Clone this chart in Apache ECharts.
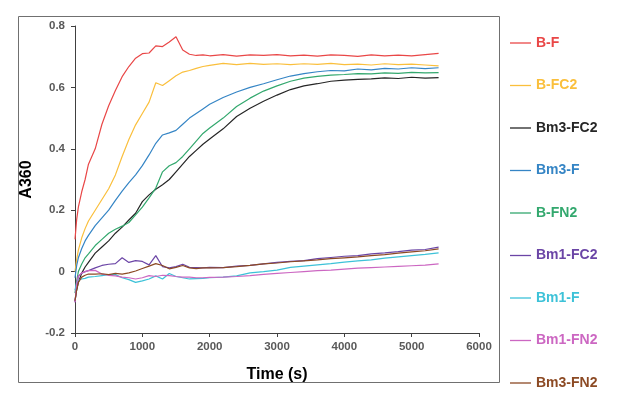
<!DOCTYPE html>
<html>
<head>
<meta charset="utf-8">
<script src="https://cdn.jsdelivr.net/npm/echarts@6/dist/echarts.min.js"></script>
<style>
  html, body { margin: 0; padding: 0; background: #fff; }
  #main { width: 617px; height: 398px; }
</style>
</head>
<body>
<div id="main"></div>
<script>
// time points (s)
var times = [0, 25, 50, 100, 150, 200, 300, 400, 500, 600, 700, 800, 900, 1000, 1100, 1200, 1300, 1400, 1500, 1600, 1700, 1800, 1900, 2000,
    2200, 2400, 2600, 2800, 3000, 3200, 3400, 3600, 3800, 4000, 4200, 4400, 4600, 4800, 5000, 5200, 5400];

var names = ['B-F', 'B-FC2', 'Bm3-FC2', 'Bm3-F', 'B-FN2', 'Bm1-FC2', 'Bm1-F', 'Bm1-FN2', 'Bm3-FN2'];
var colors = ['#E94747', '#FABF3C', '#262626', '#3585C5', '#33A86E', '#6B45A6', '#3DC2D8', '#CC67C2', '#8C4A24'];

// A360 readings
var bF = [0.105, 0.17, 0.21, 0.26, 0.30, 0.35, 0.40, 0.48, 0.54, 0.59, 0.635, 0.668, 0.695, 0.710, 0.712, 0.735, 0.733, 0.748, 0.765, 0.722, 0.708, 0.704, 0.706, 0.703,
    0.707, 0.702, 0.706, 0.704, 0.707, 0.703, 0.705, 0.702, 0.706, 0.704, 0.701, 0.706, 0.703, 0.705, 0.703, 0.707, 0.711];
var bFC2 = [0.0, 0.04, 0.07, 0.11, 0.14, 0.165, 0.20, 0.235, 0.27, 0.315, 0.375, 0.43, 0.478, 0.515, 0.552, 0.615, 0.606, 0.622, 0.638, 0.65, 0.655, 0.662, 0.668, 0.672,
    0.678, 0.674, 0.678, 0.675, 0.677, 0.674, 0.677, 0.675, 0.678, 0.674, 0.676, 0.673, 0.677, 0.674, 0.676, 0.673, 0.670];
var bm3FC2 = [-0.095, -0.06, -0.035, -0.005, 0.015, 0.03, 0.06, 0.08, 0.10, 0.125, 0.145, 0.168, 0.19, 0.228, 0.25, 0.268, 0.283, 0.30, 0.325, 0.35, 0.375, 0.395, 0.415, 0.432,
    0.465, 0.505, 0.532, 0.555, 0.575, 0.593, 0.605, 0.612, 0.62, 0.624, 0.626, 0.628, 0.631, 0.629, 0.633, 0.63, 0.632];
var bm3F = [-0.02, 0.02, 0.045, 0.075, 0.10, 0.118, 0.15, 0.175, 0.20, 0.232, 0.262, 0.29, 0.315, 0.345, 0.38, 0.418, 0.445, 0.452, 0.460, 0.48, 0.50, 0.515, 0.53, 0.545,
    0.567, 0.585, 0.60, 0.612, 0.625, 0.637, 0.645, 0.651, 0.655, 0.654, 0.66, 0.657, 0.662, 0.66, 0.664, 0.661, 0.664];
var bFN2 = [-0.07, -0.03, 0.0, 0.025, 0.045, 0.058, 0.085, 0.105, 0.125, 0.138, 0.148, 0.16, 0.185, 0.21, 0.24, 0.272, 0.325, 0.345, 0.355, 0.375, 0.40, 0.425, 0.45, 0.468,
    0.50, 0.538, 0.565, 0.588, 0.605, 0.62, 0.63, 0.636, 0.64, 0.642, 0.645, 0.644, 0.647, 0.646, 0.649, 0.647, 0.648];
var bm1FC2 = [-0.10, -0.05, -0.015, -0.005, 0.0, 0.003, 0.012, 0.02, 0.024, 0.026, 0.045, 0.03, 0.036, 0.033, 0.022, 0.052, 0.016, 0.012, 0.016, 0.024, 0.014, 0.013, 0.012, 0.014,
    0.013, 0.018, 0.02, 0.025, 0.03, 0.033, 0.036, 0.042, 0.046, 0.05, 0.052, 0.058, 0.061, 0.065, 0.07, 0.072, 0.08];
var bm1F = [-0.06, -0.035, -0.028, -0.024, -0.022, -0.018, -0.016, -0.013, -0.01, -0.01, -0.02, -0.026, -0.035, -0.03, -0.024, -0.014, -0.024, -0.006, -0.016, -0.02, -0.024, -0.023, -0.022, -0.02,
    -0.018, -0.014, -0.004, 0.0, 0.005, 0.014, 0.018, 0.022, 0.026, 0.031, 0.035, 0.038, 0.044, 0.048, 0.052, 0.056, 0.061];
var bm1FN2 = [-0.10, -0.04, -0.015, -0.004, 0.0, 0.003, 0.004, -0.008, -0.012, -0.014, -0.018, -0.02, -0.024, -0.02, -0.013, -0.016, -0.012, -0.013, -0.016, -0.018, -0.018, -0.02, -0.02, -0.019,
    -0.018, -0.016, -0.013, -0.009, -0.006, -0.003, 0.0, 0.003, 0.005, 0.008, 0.011, 0.013, 0.015, 0.017, 0.019, 0.021, 0.025];
var bm3FN2 = [-0.095, -0.06, -0.035, -0.018, -0.012, -0.008, -0.008, -0.007, -0.01, -0.006, -0.008, -0.004, 0.002, 0.01, 0.018, 0.026, 0.02, 0.009, 0.014, 0.02, 0.012, 0.01, 0.012, 0.012,
    0.013, 0.016, 0.02, 0.025, 0.028, 0.032, 0.035, 0.038, 0.042, 0.045, 0.048, 0.052, 0.055, 0.06, 0.064, 0.068, 0.074];

var values = [bF, bFC2, bm3FC2, bm3F, bFN2, bm1FC2, bm1F, bm1FN2, bm3FN2];
var xTicks = [0, 1000, 2000, 3000, 4000, 5000, 6000];
var yTicks = [-0.2, 0, 0.2, 0.4, 0.6, 0.8];

var font = 'Liberation Sans, Arial, sans-serif';
var chart = echarts.init(document.getElementById('main'));

var series = names.map(function (name, i) {
    return {
        name: name,
        type: 'line',
        showSymbol: false,
        data: times.map(function (t, j) { return [t, values[i][j]]; }),
        lineStyle: { width: 1.2, color: colors[i] },
        itemStyle: { color: colors[i] }
    };
});

// one legend per entry so the spacing matches the original
var legends = names.map(function (name, i) {
    return {
        data: [{ name: name, textStyle: { color: colors[i] } }],
        left: 510,
        top: 43 + i * 42.5 - 8,
        padding: 0,
        icon: 'rect',
        itemWidth: 21,
        itemHeight: 1.3,
        selectedMode: false,
        textStyle: { fontFamily: font, fontWeight: 'bold', fontSize: 14, lineHeight: 16 }
    };
});

var option = {
    animation: false,
    backgroundColor: '#fff',
    textStyle: { fontFamily: font },
    grid: { left: 75, right: 138, top: 26, bottom: 65 },
    legend: legends,
    graphic: [{
        type: 'rect',
        shape: { x: 18.5, y: 16.5, width: 481, height: 366 },
        style: { fill: 'none', stroke: '#707070', lineWidth: 1 },
        silent: true
    }],
    xAxis: {
        type: 'value',
        min: xTicks[0],
        max: xTicks[xTicks.length - 1],
        interval: 1000,
        name: 'Time (s)',
        nameLocation: 'middle',
        nameGap: 34,
        nameTextStyle: { color: '#000', fontWeight: 'bold', fontSize: 16, fontFamily: font },
        axisLine: { onZero: false, lineStyle: { color: '#404040', width: 1 } },
        axisTick: { length: 4, lineStyle: { color: '#404040' } },
        axisLabel: {
            color: '#595959', fontWeight: 'bold', fontSize: 11.5, margin: 8, fontFamily: font,
            formatter: function (v) { return String(v); }
        },
        splitLine: { show: false }
    },
    yAxis: {
        type: 'value',
        min: yTicks[0],
        max: yTicks[yTicks.length - 1],
        interval: 0.2,
        name: 'A360',
        nameLocation: 'middle',
        nameGap: 40,
        nameTextStyle: { color: '#000', fontWeight: 'bold', fontSize: 16, fontFamily: font },
        axisLine: { show: true, lineStyle: { color: '#404040', width: 1 } },
        axisTick: { show: true, length: 4, lineStyle: { color: '#404040' } },
        axisLabel: {
            color: '#595959', fontWeight: 'bold', fontSize: 11.5, margin: 10, fontFamily: font,
            formatter: function (v) { return String(Math.round(v * 10) / 10); }
        },
        splitLine: { show: false }
    },
    series: series
};
chart.setOption(option);
</script>
</body>
</html>
